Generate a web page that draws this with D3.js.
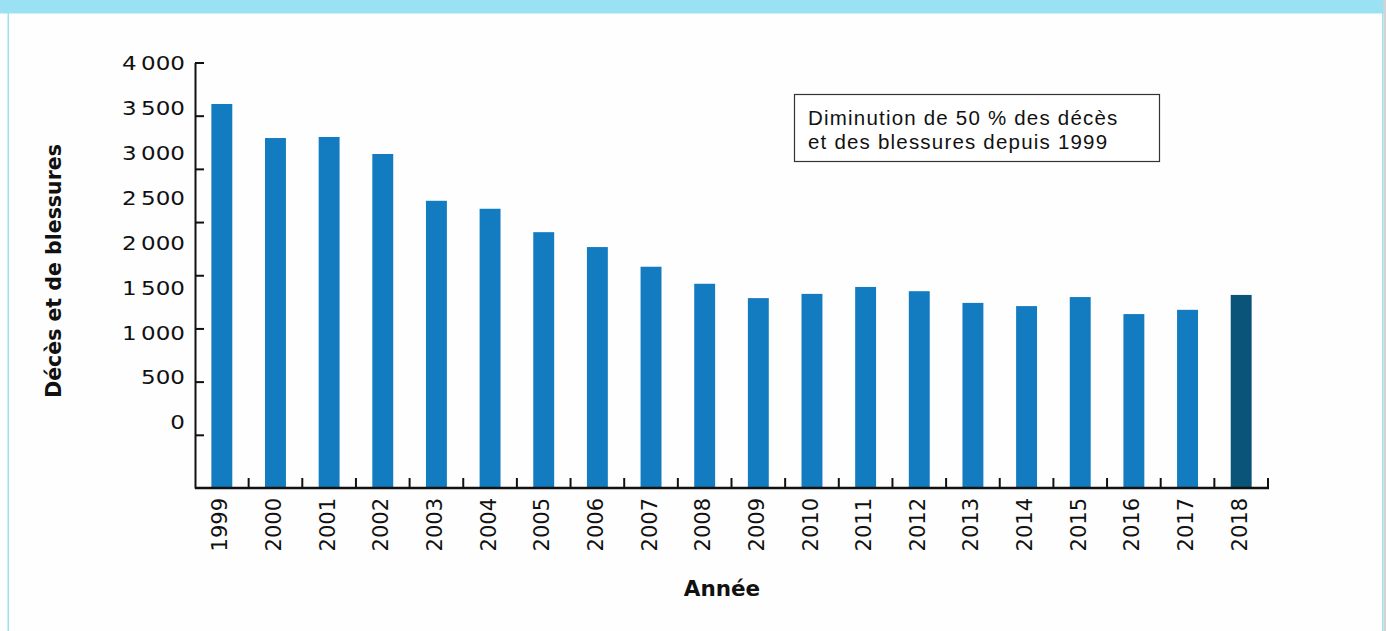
<!DOCTYPE html>
<html lang="fr">
<head>
<meta charset="UTF-8" />
<title>Décès et blessures 1999-2018</title>
<script src="https://d3js.org/d3.v7.min.js"></script>
<style>
  body { margin: 0; background: #fff; }
  svg { display: block; }
</style>
</head>
<body>
<div id="chart"></div>
<script>
  // data
  const years = ["1999", "2000", "2001", "2002", "2003", "2004", "2005", "2006", "2007", "2008",
                 "2009", "2010", "2011", "2012", "2013", "2014", "2015", "2016", "2017", "2018"];
  const values = [3610, 3290, 3300, 3140, 2700, 2625, 2405, 2265, 2080, 1920,
                  1785, 1825, 1890, 1850, 1740, 1710, 1795, 1635, 1675, 1815];
  const yTicks = [0, 500, 1000, 1500, 2000, 2500, 3000, 3500, 4000];
  const yTickLabels = ["0", "500", "1\u202f000", "1\u202f500", "2\u202f000", "2\u202f500", "3\u202f000", "3\u202f500", "4\u202f000"];
  const highlightYear = "2018";
  const noteLines = ["Diminution de 50 % des décès", "et des blessures depuis 1999"];

  const width = 1386;
  const height = 631;

  const svg = d3.select("#chart").append("svg")
    .attr("width", width)
    .attr("height", height);

  // page frame: top band, side rules
  svg.append("rect").attr("x", 0).attr("y", 0).attr("width", width).attr("height", height).attr("fill", "#fefefe");
  svg.append("rect").attr("x", 0).attr("y", 0).attr("width", 1384).attr("height", 13.5).attr("fill", "#9be1f4");
  svg.append("rect").attr("x", 7.5).attr("y", 13).attr("width", 1.5).attr("height", height).attr("fill", "#9be1f4");
  svg.append("rect").attr("x", 1382).attr("y", 13).attr("width", 1.5).attr("height", height).attr("fill", "#9be1f4");
  svg.append("rect").attr("x", 1383.5).attr("y", 0).attr("width", 2.5).attr("height", height).attr("fill", "#d3d3d3");

  const plotLeft = 195, plotRight = 1268, plotBase = 488, plotTop = 62.5;

  const x = d3.scaleBand()
    .domain(years)
    .range([plotLeft, plotRight])
    .paddingInner(0.61)
    .paddingOuter(0.305);

  const y = d3.scaleLinear().domain([0, 4000]).range([plotBase, plotTop]);
  // the tick labels in the source sit on their own, tighter spacing
  const yLabel = d3.scaleLinear().domain([0, 4000]).range([422, 63]);

  // bars
  svg.append("g").selectAll("rect")
    .data(years)
    .join("rect")
    .attr("x", d => x(d))
    .attr("width", x.bandwidth())
    .attr("y", (d, i) => y(values[i]))
    .attr("height", (d, i) => plotBase - y(values[i]))
    .attr("fill", d => d === highlightYear ? "#0b5479" : "#137cc0");

  // y axis: line plus inward ticks
  const yAxis = d3.axisLeft(y)
    .tickValues(yTicks.slice(1))
    .tickSize(-9)
    .tickSizeOuter(0)
    .tickFormat("");
  const gy = svg.append("g").attr("transform", `translate(${plotLeft},0)`).call(yAxis);
  gy.selectAll("path, line").attr("stroke", "#111").attr("stroke-width", 2);

  // wide round digits in the source: stretch DejaVu a little
  svg.append("g").selectAll("text")
    .data(yTicks)
    .join("text")
    .attr("transform", d => `translate(185,${yLabel(d) + 7.3}) scale(1.15,1)`)
    .attr("text-anchor", "end")
    .attr("font-family", "DejaVu Sans")
    .attr("font-size", 20)
    .attr("fill", "#111")
    .text((d, i) => yTickLabels[i]);

  // x axis: baseline with upward ticks between bars
  const step = x.step();
  svg.append("line")
    .attr("x1", plotLeft).attr("x2", plotRight + 1)
    .attr("y1", plotBase).attr("y2", plotBase)
    .attr("stroke", "#111").attr("stroke-width", 2.5);
  svg.append("g").selectAll("line")
    .data(years)
    .join("line")
    .attr("x1", d => x(d) - step * x.paddingInner() / 2 + step)
    .attr("x2", d => x(d) - step * x.paddingInner() / 2 + step)
    .attr("y1", plotBase)
    .attr("y2", plotBase - 10)
    .attr("stroke", "#111")
    .attr("stroke-width", 2);

  svg.append("g").selectAll("text")
    .data(years)
    .join("text")
    .attr("transform", d => `translate(${x(d) + x.bandwidth() / 2 - 2},498) rotate(-90)`)
    .attr("text-anchor", "end")
    .attr("dy", "0.36em")
    .attr("font-family", "DejaVu Sans")
    .attr("font-size", 21)
    .attr("fill", "#111")
    .text(d => d);

  // axis titles
  svg.append("text")
    .attr("transform", "translate(61,271) rotate(-90)")
    .attr("text-anchor", "middle")
    .attr("font-family", "DejaVu Sans")
    .attr("font-weight", "bold")
    .attr("font-size", 20.5)
    .attr("fill", "#111")
    .text("Décès et de blessures");

  svg.append("text")
    .attr("x", 722)
    .attr("y", 596)
    .attr("text-anchor", "middle")
    .attr("font-family", "DejaVu Sans")
    .attr("font-weight", "bold")
    .attr("font-size", 21.5)
    .attr("fill", "#111")
    .text("Année");

  // note box
  svg.append("rect")
    .attr("x", 794.5).attr("y", 94.5)
    .attr("width", 365).attr("height", 67)
    .attr("fill", "#fff")
    .attr("stroke", "#333")
    .attr("stroke-width", 1.2);
  svg.append("g").selectAll("text")
    .data(noteLines)
    .join("text")
    .attr("x", 808)
    .attr("y", (d, i) => 125 + i * 23.5)
    .attr("font-family", "Liberation Sans")
    .attr("font-size", 20.5)
    .attr("letter-spacing", 1.2)
    .attr("fill", "#111")
    .text(d => d);
</script>
</body>
</html>
